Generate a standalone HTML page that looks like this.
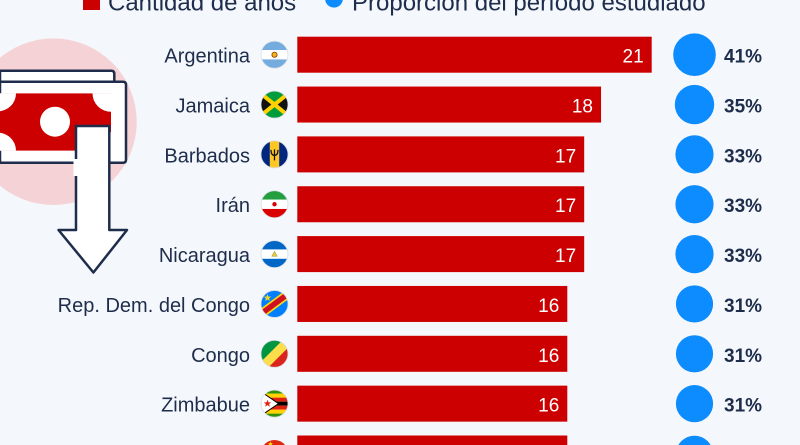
<!DOCTYPE html>
<html><head><meta charset="utf-8"><style>
html,body{margin:0;padding:0;background:#f4f7fb;width:800px;height:445px;overflow:hidden;}
svg{display:block;}
text{font-family:"Liberation Sans",sans-serif;}
</style></head><body>
<svg width="800" height="445" viewBox="0 0 800 445" xmlns="http://www.w3.org/2000/svg">
<defs>
<clipPath id="fc"><circle cx="0" cy="0" r="13.5"/></clipPath>
<clipPath id="rc"><rect x="-5" y="93.3" width="116" height="57.4"/></clipPath>
</defs>
<rect x="0" y="0" width="800" height="445" fill="#f4f7fb"/>

<!-- legend -->
<rect x="83" y="0" width="17" height="10" fill="#cc0000"/>
<text x="108" y="10.5" font-size="24" fill="#1e2d4b">Cantidad de años</text>
<path d="M325.2,0 L342.8,0 A8.9,8.9 0 0 1 325.2,0 Z" fill="#0c8cff"/>
<text x="352" y="10.5" font-size="24" fill="#1e2d4b">Proporción del período estudiado</text>

<!-- money icon -->
<circle cx="53.4" cy="121.7" r="83.3" fill="#f5d2d6"/>
<path d="M0,70.7 L111.3,70.7 Q114.3,70.7 114.3,73.7 L114.3,130.7 L0,130.7 Z" fill="#fff" stroke="#1e2d4b" stroke-width="2.5"/>
<path d="M0,81.7 L123,81.7 Q126,81.7 126,84.7 L126,159.7 Q126,162.7 123,162.7 L0,162.7 Z" fill="#fff" stroke="#1e2d4b" stroke-width="2.5"/>
<g clip-path="url(#rc)">
<rect x="-5" y="93.3" width="116" height="57.4" fill="#cc0000"/>
<circle cx="111" cy="93.3" r="18.5" fill="#fff"/>
<circle cx="111" cy="150.7" r="18.5" fill="#fff"/>
<circle cx="-2" cy="93.3" r="18" fill="#fff"/>
<circle cx="-2" cy="150.7" r="18" fill="#fff"/>
</g>
<circle cx="55" cy="121.7" r="15" fill="#fff"/>
<path d="M76,126 L109.3,126 L109.3,230 L127,230 L93.4,272.5 L58.5,230 L76,230 Z" fill="#fff" stroke="#1e2d4b" stroke-width="2.5" stroke-linejoin="round"/>
<rect x="73.5" y="159" width="5" height="17" fill="#fff"/>

<!-- rows -->
<g font-size="20" fill="#1e2d4b" text-anchor="end">
<text x="250" y="62.7">Argentina</text>
<text x="250" y="112.5">Jamaica</text>
<text x="250" y="162.4">Barbados</text>
<text x="250" y="212.2">Irán</text>
<text x="250" y="262.1">Nicaragua</text>
<text x="250" y="311.9">Rep. Dem. del Congo</text>
<text x="250" y="361.8">Congo</text>
<text x="250" y="411.6">Zimbabue</text>
</g>

<g fill="#cc0000">
<rect x="297.3" y="36.7" width="354.4" height="36"/>
<rect x="297.3" y="86.55" width="303.75" height="36"/>
<rect x="297.3" y="136.4" width="286.9" height="36"/>
<rect x="297.3" y="186.25" width="286.9" height="36"/>
<rect x="297.3" y="236.1" width="286.9" height="36"/>
<rect x="297.3" y="285.95" width="270" height="36"/>
<rect x="297.3" y="335.8" width="270" height="36"/>
<rect x="297.3" y="385.65" width="270" height="36"/>
<rect x="297.3" y="435.5" width="270" height="9.5"/>
</g>

<g font-size="19" fill="#fff" text-anchor="end">
<text x="643.7" y="62.7">21</text>
<text x="593" y="112.5">18</text>
<text x="576.2" y="162.4">17</text>
<text x="576.2" y="212.2">17</text>
<text x="576.2" y="262.1">17</text>
<text x="559.3" y="311.9">16</text>
<text x="559.3" y="361.8">16</text>
<text x="559.3" y="411.6">16</text>
</g>

<g fill="#0c8cff">
<circle cx="694.5" cy="54.7" r="21.3"/>
<circle cx="694.5" cy="104.55" r="19.7"/>
<circle cx="694.5" cy="154.4" r="19.1"/>
<circle cx="694.5" cy="204.25" r="19.1"/>
<circle cx="694.5" cy="254.1" r="19.1"/>
<circle cx="694.5" cy="303.95" r="18.6"/>
<circle cx="694.5" cy="353.8" r="18.6"/>
<circle cx="694.5" cy="403.65" r="18.6"/>
<path d="M678.4,445 A18.6,18.6 0 0 1 710.6,445 Z"/>
</g>

<g font-size="19" font-weight="bold" fill="#1e2d4b">
<text x="724" y="62.7">41%</text>
<text x="724" y="112.5">35%</text>
<text x="724" y="162.4">33%</text>
<text x="724" y="212.2">33%</text>
<text x="724" y="262.1">33%</text>
<text x="724" y="311.9">31%</text>
<text x="724" y="361.8">31%</text>
<text x="724" y="411.6">31%</text>
</g>

<!-- flags -->
<g transform="translate(274.5,54.7)"><g clip-path="url(#fc)">
<rect x="-13.5" y="-13.5" width="27" height="27" fill="#74acdf"/>
<rect x="-13.5" y="-4.7" width="27" height="9.4" fill="#fff"/>
<circle r="2.6" fill="#f6b40e" stroke="#85340a" stroke-width="0.8"/>
</g><circle r="13.5" fill="none" stroke="#d8dde5" stroke-width="0.8"/></g>

<g transform="translate(274.5,104.55)"><g clip-path="url(#fc)">
<rect x="-13.5" y="-13.5" width="27" height="27" fill="#009b3a"/>
<polygon points="-13.5,-12 -13.5,12 0,0" fill="#111"/>
<polygon points="13.5,-12 13.5,12 0,0" fill="#111"/>
<line x1="-13" y1="-10.5" x2="13" y2="10.5" stroke="#fed100" stroke-width="4"/>
<line x1="13" y1="-10.5" x2="-13" y2="10.5" stroke="#fed100" stroke-width="4"/>
</g><circle r="13.5" fill="none" stroke="#d8dde5" stroke-width="0.8"/></g>

<g transform="translate(274.5,154.4)"><g clip-path="url(#fc)">
<rect x="-13.5" y="-13.5" width="27" height="27" fill="#00267f"/>
<rect x="-4.7" y="-13.5" width="9.4" height="27" fill="#ffc726"/>
<path d="M0,-5 L0,6 M-3.5,-4.5 Q-3.5,1 0,1 Q3.5,1 3.5,-4.5" fill="none" stroke="#111" stroke-width="1.3"/>
</g><circle r="13.5" fill="none" stroke="#d8dde5" stroke-width="0.8"/></g>

<g transform="translate(274.5,204.25)"><g clip-path="url(#fc)">
<rect x="-13.5" y="-13.5" width="27" height="27" fill="#fff"/>
<rect x="-13.5" y="-13.5" width="27" height="8.8" fill="#239f40"/>
<rect x="-13.5" y="4.7" width="27" height="8.8" fill="#da0000"/>
<circle r="2.2" fill="#da0000"/>
</g><circle r="13.5" fill="none" stroke="#d8dde5" stroke-width="0.8"/></g>

<g transform="translate(274.5,254.1)"><g clip-path="url(#fc)">
<rect x="-13.5" y="-13.5" width="27" height="27" fill="#0067c6"/>
<rect x="-13.5" y="-4.7" width="27" height="9.4" fill="#fff"/>
<polygon points="0,-3 2.8,2.2 -2.8,2.2" fill="#e8c640" stroke="#8a9a5b" stroke-width="0.5"/>
</g><circle r="13.5" fill="none" stroke="#d8dde5" stroke-width="0.8"/></g>

<g transform="translate(274.5,303.95)"><g clip-path="url(#fc)">
<rect x="-13.5" y="-13.5" width="27" height="27" fill="#007fff"/>
<line x1="-13.5" y1="10" x2="13.5" y2="-10" stroke="#f7d618" stroke-width="9"/>
<line x1="-13.5" y1="10" x2="13.5" y2="-10" stroke="#ce1021" stroke-width="5.5"/>
<polygon points="-7,-10 -6,-7.3 -3.2,-7.3 -5.4,-5.6 -4.6,-2.9 -7,-4.5 -9.4,-2.9 -8.6,-5.6 -10.8,-7.3 -8,-7.3" fill="#f7d618"/>
</g><circle r="13.5" fill="none" stroke="#d8dde5" stroke-width="0.8"/></g>

<g transform="translate(274.5,353.8)"><g clip-path="url(#fc)">
<rect x="-13.5" y="-13.5" width="27" height="27" fill="#fbde4a"/>
<polygon points="-13.5,-13.5 8,-13.5 -13.5,8" fill="#009543"/>
<polygon points="13.5,-6 13.5,13.5 -6,13.5" fill="#dc241f"/>
</g><circle r="13.5" fill="none" stroke="#d8dde5" stroke-width="0.8"/></g>

<g transform="translate(274.5,403.65)"><g clip-path="url(#fc)">
<rect x="-13.5" y="-13.5" width="27" height="3.5" fill="#319208"/>
<rect x="-13.5" y="-10" width="27" height="4" fill="#ffd200"/>
<rect x="-13.5" y="-6" width="27" height="4" fill="#de2010"/>
<rect x="-13.5" y="-2" width="27" height="4" fill="#000"/>
<rect x="-13.5" y="2" width="27" height="4" fill="#de2010"/>
<rect x="-13.5" y="6" width="27" height="4" fill="#ffd200"/>
<rect x="-13.5" y="10" width="27" height="3.5" fill="#319208"/>
<polygon points="-13.5,-12 4,0 -13.5,12" fill="#fff" stroke="#000" stroke-width="1"/>
<polygon points="-7,-4 -6,-1.3 -3.2,-1.3 -5.4,0.4 -4.6,3.1 -7,1.5 -9.4,3.1 -8.6,0.4 -10.8,-1.3 -8,-1.3" fill="#de2010"/>
</g><circle r="13.5" fill="none" stroke="#d8dde5" stroke-width="0.8"/></g>

<!-- China (partial, top only) -->
<path d="M264,445 A13.5,13.5 0 0 1 285,445 Z" fill="#de2910"/>
<polygon points="270.5,441.5 271.3,443.2 273,443.2 271.7,444.3 272.1,445 268.9,445 269.3,444.3 268,443.2 269.7,443.2" fill="#ffde00"/>
</svg>
</body></html>
